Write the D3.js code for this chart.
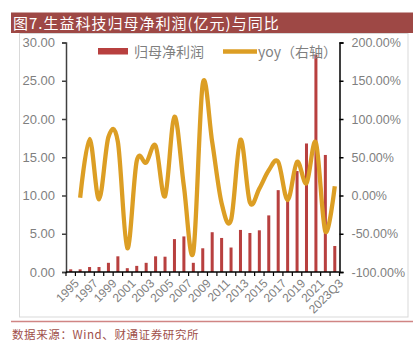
<!DOCTYPE html>
<html>
<head>
<meta charset="utf-8">
<script src="https://cdn.jsdelivr.net/npm/d3@7"></script>
<style>
  body { margin: 0; background: #fff; }
  text { font-family: "Liberation Sans", Arial, sans-serif; }
  .cjk { font-family: "Noto Sans CJK SC", sans-serif; }
</style>
</head>
<body>
<div id="chart"></div>
<script>
// categories and values
var years = ['1995','1996','1997','1998','1999','2000','2001','2002','2003','2004',
             '2005','2006','2007','2008','2009','2010','2011','2012','2013','2014',
             '2015','2016','2017','2018','2019','2020','2021','2022','2023Q3'];
var profit = [0.35, 0.35, 0.65, 0.65, 1.2, 2.05, 0.5, 0.8, 1.2, 2.05,
              2.0, 4.3, 4.65, 1.2, 3.1, 5.2, 4.45, 3.2, 5.5, 5.1,
              5.45, 7.4, 10.7, 9.3, 13.2, 16.8, 28.4, 15.3, 3.4];
var yoy = [null, -3, 74, -5, 76.5, 70, -69, 45, 43, 65,
           -1, 103, 12, -74, 146, 70, -10, -32, 73, -9,
           9, 33, 44, -6, 44, 16, 69, -47, 12];
var leftTicks = [0, 5, 10, 15, 20, 25, 30];
var rightTicks = [-100, -50, 0, 50, 100, 150, 200];

var W = 417, H = 354;
var plotL = 66, plotR = 339.5, plotT = 42.5, plotB = 272;
var barColor = '#b8403f', lineColor = '#dc9e24', grey = '#7f7f7f';

var svg = d3.select('#chart').append('svg')
    .attr('width', W).attr('height', H);

// title bar
svg.append('rect').attr('x', 11).attr('y', 12.5).attr('width', 402).attr('height', 20.5)
    .attr('fill', '#9e4845');
svg.append('text').attr('class', 'cjk')
    .attr('x', 13).attr('y', 28.5)
    .attr('fill', '#fff').style('font-size', '15px').style('letter-spacing', '1px')
    .text('图7.生益科技归母净利润(亿元)与同比');

// chart frame
svg.append('rect').attr('x', 19.5).attr('y', 33.5).attr('width', 388.5).attr('height', 283.5)
    .attr('fill', 'none').attr('stroke', '#d9d9d9');

// scales
var x = d3.scaleBand().domain(years).range([plotL, plotR])
    .paddingInner(0.68).paddingOuter(0.34);
var yL = d3.scaleLinear().domain([0, 30]).range([plotB, plotT]);
var yR = d3.scaleLinear().domain([-100, 200]).range([plotB, plotT]);
var step = x.step();
function cx(d) { return x(d) + x.bandwidth() / 2; }

// bars
svg.selectAll('.bar').data(years).enter().append('rect')
    .attr('class', 'bar')
    .attr('x', function(d) { return x(d); })
    .attr('y', function(d, i) { return yL(profit[i]); })
    .attr('width', x.bandwidth())
    .attr('height', function(d, i) { return plotB - yL(profit[i]); })
    .attr('fill', barColor);

// yoy line
var line = d3.line()
    .defined(function(d) { return d.v != null; })
    .x(function(d) { return cx(d.c); })
    .y(function(d) { return yR(d.v); })
    .curve(d3.curveCardinal.tension(0));
svg.append('path')
    .datum(years.map(function(c, i) { return { c: c, v: yoy[i] }; }))
    .attr('d', line)
    .attr('fill', 'none').attr('stroke', lineColor)
    .attr('stroke-width', 4.3).attr('stroke-linejoin', 'round');

// left axis
var axL = svg.append('g').attr('transform', 'translate(' + plotL + ',0)')
    .call(d3.axisLeft(yL).tickValues(leftTicks).tickSize(4).tickPadding(7)
        .tickFormat(d3.format('.2f')));
axL.select('.domain').attr('stroke', '#404040').attr('stroke-width', 1.5);
axL.selectAll('.tick line').attr('stroke', '#404040').attr('stroke-width', 1.5);
axL.selectAll('text').attr('fill', grey).style('font-size', '13px')
    .style('font-family', '"Liberation Sans", Arial, sans-serif');

// right axis
var axR = svg.append('g').attr('transform', 'translate(' + plotR + ',0)')
    .call(d3.axisRight(yR).tickValues(rightTicks).tickSize(4).tickPadding(8)
        .tickFormat(function(d) { return (d < 0 ? '-' : '') + d3.format('.2f')(Math.abs(d)) + '%'; }));
axR.select('.domain').attr('stroke', '#000').attr('stroke-width', 1.5);
axR.selectAll('.tick line').attr('stroke', '#000').attr('stroke-width', 1.5);
axR.selectAll('text').attr('fill', grey).style('font-size', '12.5px')
    .style('font-family', '"Liberation Sans", Arial, sans-serif');

// x axis line + boundary ticks
svg.append('line').attr('x1', plotL).attr('x2', plotR).attr('y1', plotB).attr('y2', plotB)
    .attr('stroke', '#000').attr('stroke-width', 1.5);
svg.selectAll('.xtick').data(d3.range(years.length + 1)).enter().append('line')
    .attr('class', 'xtick')
    .attr('x1', function(i) { return plotL + i * step; })
    .attr('x2', function(i) { return plotL + i * step; })
    .attr('y1', plotB).attr('y2', plotB + 4)
    .attr('stroke', '#000').attr('stroke-width', 1.2);

// x labels, every other year
svg.selectAll('.xlab').data(years.filter(function(d, i) { return i % 2 === 0; }))
    .enter().append('text')
    .attr('class', 'xlab')
    .attr('transform', function(d) { return 'translate(' + (cx(d) + 4) + ',' + (plotB + 7) + ') rotate(-45)'; })
    .attr('text-anchor', 'end').attr('dy', '0.6em')
    .attr('fill', grey).style('font-size', '12px')
    .text(function(d) { return d; });

// legend
svg.append('rect').attr('x', 98).attr('y', 48).attr('width', 30).attr('height', 6.5)
    .attr('fill', barColor);
svg.append('text').attr('class', 'cjk').attr('x', 134).attr('y', 56.5)
    .attr('fill', grey).style('font-size', '14px').text('归母净利润');
svg.append('line').attr('x1', 223).attr('x2', 257).attr('y1', 51.5).attr('y2', 51.5)
    .attr('stroke', lineColor).attr('stroke-width', 4.5);
svg.append('text').attr('class', 'cjk').attr('x', 258).attr('y', 56.5)
    .attr('fill', grey).style('font-size', '14px').text('yoy（右轴）');

// source footer
svg.append('line').attr('x1', 11).attr('x2', 413).attr('y1', 321.5).attr('y2', 321.5)
    .attr('stroke', '#d08584').attr('stroke-width', 1.5);
svg.append('text').attr('class', 'cjk').attr('x', 12).attr('y', 339)
    .attr('fill', '#a0504a').style('font-size', '11.5px').style('letter-spacing', '0.6px')
    .text('数据来源：Wind、财通证券研究所');
</script>
</body>
</html>
